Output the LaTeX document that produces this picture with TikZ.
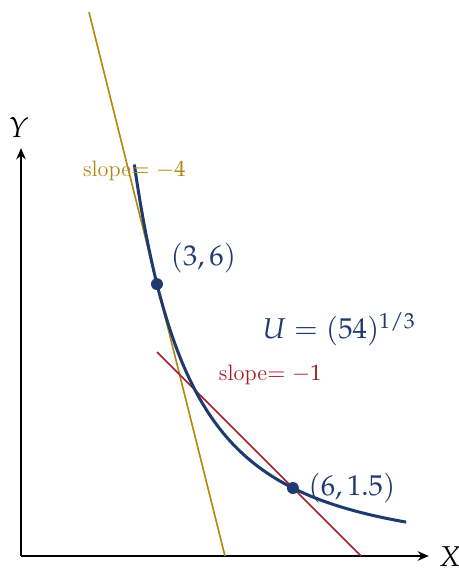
\documentclass[tikz,border=0pt]{standalone}
\usepackage{mathpazo}
\usetikzlibrary{arrows.meta}
\definecolor{curveblue}{HTML}{1F3A6E}
\definecolor{gold}{HTML}{B08A10}
\definecolor{tanred}{HTML}{A51E28}
\begin{document}
\begin{tikzpicture}[x=1cm,y=1cm,
  axis/.style={line width=1.2pt,-{Stealth[length=7pt,width=6pt]}},
  dotpt/.style={circle,fill=curveblue,inner sep=0pt,minimum size=7.5pt},
  lbl/.style={font=\fontsize{18}{22}\selectfont},
  slbl/.style={font=\fontsize{14}{17}\selectfont}]
\useasboundingbox (-0.464,-0.287) rectangle (9.65,12.27);
\coordinate (O) at (0,0);
\coordinate (xend) at (9,0);
\coordinate (yend) at (0,9);
\draw[axis] (O) -- (xend);
\draw[axis] (O) -- (yend);
\node[lbl] (X) at (9.47,-0.02) {$X$};
\node[lbl] (Y) at (-0.05,9.45) {$Y$};
% tangent lines
\coordinate (g1) at (1.5,12);
\coordinate (g2) at (4.5,0);
\draw[gold,line width=1pt] (g1) -- (g2);
\coordinate (r1) at (3,4.5);
\coordinate (r2) at (7.5,0);
\draw[tanred,line width=1pt] (r1) -- (r2);
% curve
\draw[curveblue,line width=1.9pt,domain=2.5:8.5,samples=100,smooth] plot (\x,{54/(\x*\x)});
\node[dotpt] (A) at (3,6) {};
\node[dotpt] (B) at (6,1.5) {};
\node[lbl,text=curveblue,anchor=west] (Alab) at (3.18,6.58) {$(3,6)$};
\node[lbl,text=curveblue,anchor=west] (Blab) at (6.22,1.5) {$(6,1.5)$};
\node[lbl,text=curveblue] (U) at (7.02,5.0) {$U=(54)^{1/3}$};
\node[slbl,text=gold] (s4) at (2.5,8.5) {slope$=-4$};
\node[slbl,text=tanred] (s1) at (5.5,4.0) {slope$=-1$};
\end{tikzpicture}
\end{document}
